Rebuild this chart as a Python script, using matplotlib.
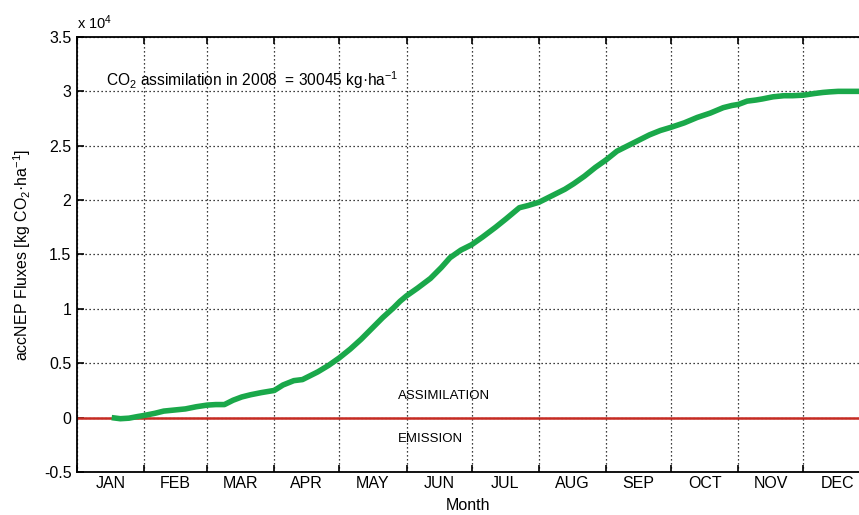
import matplotlib
matplotlib.use("Agg")
import matplotlib.pyplot as plt
from matplotlib.ticker import FixedLocator, NullFormatter, FixedFormatter

plt.rcParams['font.family'] = ['Liberation Sans', 'DejaVu Sans']
plt.rcParams['mathtext.fontset'] = 'custom'
plt.rcParams['mathtext.rm'] = 'Liberation Sans'
plt.rcParams['mathtext.it'] = 'Liberation Sans:italic'
plt.rcParams['mathtext.bf'] = 'Liberation Sans:bold'

# Month layout for 2008 (leap year)
months = ["JAN", "FEB", "MAR", "APR", "MAY", "JUN",
          "JUL", "AUG", "SEP", "OCT", "NOV", "DEC"]
month_start = [0, 31, 60, 91, 121, 152, 182, 213, 244, 274, 305, 335, 366]

# Accumulated NEP (units of 1e4 kg CO2/ha) by day of year
day = [16, 20, 24, 28, 31, 36, 40, 45, 50, 55, 60, 64, 68, 72, 76, 80, 85, 91,
       95, 100, 104, 107, 111, 116, 121, 126, 131, 136, 141, 146, 149, 152,
       157, 163, 168, 172, 177, 182, 187, 193, 198, 204, 208, 213, 217, 221,
       225, 229, 234, 239, 244, 249, 254, 259, 264, 269, 274, 280, 286, 292,
       298, 302, 305, 309, 313, 316, 321, 326, 330, 335, 340, 344, 347, 351,
       355, 360, 366]
acc_nep = [0.0, -0.01, -0.005, 0.01, 0.02, 0.04, 0.06, 0.07, 0.08, 0.10, 0.115,
           0.12, 0.12, 0.16, 0.19, 0.21, 0.23, 0.25, 0.30, 0.34, 0.35, 0.38,
           0.42, 0.48, 0.55, 0.63, 0.72, 0.82, 0.92, 1.01, 1.07, 1.12, 1.19,
           1.28, 1.38, 1.47, 1.54, 1.59, 1.66, 1.75, 1.83, 1.93, 1.95, 1.98,
           2.02, 2.06, 2.10, 2.15, 2.22, 2.30, 2.37, 2.45, 2.50, 2.55, 2.60,
           2.64, 2.67, 2.71, 2.76, 2.80, 2.85, 2.87, 2.88, 2.91, 2.92, 2.93,
           2.95, 2.96, 2.96, 2.965, 2.98, 2.99, 2.995, 3.0, 3.0, 3.0, 3.0]

fig = plt.figure(figsize=(8.59, 5.15), dpi=100)
ax = fig.add_axes([0.0896, 0.0835, 0.924, 0.8447])

ax.plot(day, acc_nep, color="#1aa84a", lw=4, solid_capstyle="butt", zorder=3)
ax.axhline(0, color="#c62b22", lw=1.8, zorder=2)

ax.set_xlim(0, 366)
ax.set_ylim(-0.5, 3.5)

ax.xaxis.set_major_locator(FixedLocator(month_start))
ax.xaxis.set_major_formatter(NullFormatter())
mids = [(month_start[i] + month_start[i + 1]) / 2 for i in range(12)]
ax.xaxis.set_minor_locator(FixedLocator(mids))
ax.xaxis.set_minor_formatter(FixedFormatter(months))
ax.tick_params(axis="x", which="minor", length=0, pad=3, labelsize=11.5)
ax.tick_params(axis="x", which="major", direction="in", length=5, width=1.2,
               top=True)
yt = [-0.5, 0, 0.5, 1, 1.5, 2, 2.5, 3, 3.5]
ax.set_yticks(yt)
ax.set_yticklabels(["-0.5", "0", "0.5", "1", "1.5", "2", "2.5", "3", "3.5"])
ax.tick_params(axis="y", direction="in", length=5, width=1.2, labelsize=11.5,
               pad=4)

ax.grid(True, which="major", linestyle=(0, (1, 2.2)), color="black", lw=0.9)
for s in ax.spines.values():
    s.set_linewidth(1.3)

ax.text(0.0, 1.012, r"x 10$^{4}$", transform=ax.transAxes, fontsize=10.5,
        ha="left", va="bottom")
ax.text(0.037, 0.9,
        r"CO$_2$ assimilation in 2008  = 30045 kg·ha$^{-1}$",
        transform=ax.transAxes, fontsize=11.2, ha="left", va="center")
ax.text(148, 0.2, "ASSIMILATION", fontsize=9.5, ha="left", va="center")
ax.text(148, -0.2, "EMISSION", fontsize=9.5, ha="left", va="center")

ax.set_xlabel("Month", fontsize=11.5)
ax.xaxis.set_label_coords(391 / 794, -0.06)
ax.xaxis.label.set_va("top")
ax.set_ylabel(r"accNEP Fluxes [kg CO$_2$·ha$^{-1}$]", fontsize=11.5,
              labelpad=8)

fig.savefig("out.png", dpi=100)
